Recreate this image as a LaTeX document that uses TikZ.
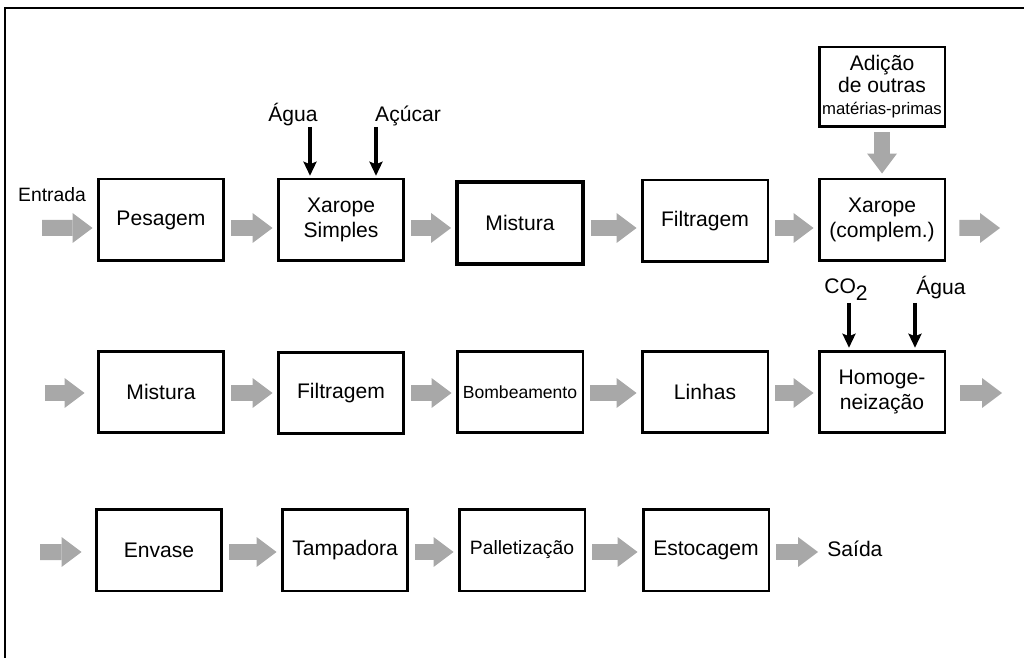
\documentclass[tikz,border=0pt]{standalone}
\usepackage{fontspec}
\setmainfont{Liberation Sans}
\usepackage{xcolor}
\usetikzlibrary{positioning,calc,arrows.meta}
\definecolor{flowgray}{RGB}{168,168,168}

\begin{document}
\begin{tikzpicture}[x=0.02cm,y=-0.02cm,
        stage/.style={draw,line width=1.7pt,minimum width=2.52cm,minimum height=1.64cm,
                      inner sep=1pt,align=center,font=\fontsize{12}{14}\selectfont},
        flow/.style={draw=flowgray,line width=0.32cm,
                     -{Triangle[length=0.4cm,width=0.6cm,line width=0pt 0]},
                     shorten <=0.12cm,shorten >=0.08cm},
        feed/.style={line width=0.08cm,-{Stealth[length=0.28cm,width=0.26cm,inset=0.05cm]},
                     shorten >=1pt},
        tag/.style={inner sep=0pt,font=\fontsize{12}{13}\selectfont}]
    \useasboundingbox (0,0) rectangle (1024,658);
    \draw[line width=0.05cm] (5,660) -- (5,8) -- (1026,8);

%Nodes
    % linha 1
    \node[stage] (pes) at (161,220) {Pesagem};
    \node[stage] (xs) at (341,220) {Xarope\\Simples};
    \node[stage, line width=2.2pt] (mis1) at (520,223) {Mistura};
    \node[stage] (fil1) at (705,221) {Filtragem};
    \node[stage] (xc) at (882,220) {Xarope\\(complem.)};
    \node[stage, minimum height=1.6cm, font=\fontsize{12}{12.5}\selectfont] (add) at (882,87)
        {Adição\\de outras\\{\fontsize{9.5}{10}\selectfont matérias-primas}};
    % linha 2
    \node[stage] (mis2) at (161,392) {Mistura};
    \node[stage] (fil2) at (341,393) {Filtragem};
    \node[stage, font=\fontsize{10}{12}\selectfont] (bom) at (520,392) {Bombeamento};
    \node[stage] (lin) at (705,392) {Linhas};
    \node[stage] (hom) at (882,392) {Homoge-\\neização};
    % linha 3
    \node[stage] (env) at (159,550) {Envase};
    \node[stage] (tam) at (345,550) {Tampadora};
    \node[stage, font=\fontsize{11}{12}\selectfont] (pal) at (522,550) {Palletização};
    \node[stage] (est) at (706,550) {Estocagem};

    % textos
    \node[tag, font=\fontsize{11}{12}\selectfont, anchor=base] (ent) at (52,202) {Entrada};
    \node[tag, anchor=west] (sai) at (827,549) {Saída};
    \node[tag, anchor=base] (agua1) at (293,122) {Água};
    \node[tag, anchor=base] (acu) at (408,122) {Açúcar};
    \node[tag, anchor=base] (co) at (846,294) {CO\raisebox{-0.55ex}{2}};
    \node[tag, anchor=base] (agua2) at (941,295) {Água};

    \coordinate (in1) at (42,228);
    \coordinate (out1) at (1000,228);
    \coordinate (in2) at (45,393);
    \coordinate (out2) at (1002,393);
    \coordinate (in3) at (40,552);
    \coordinate (w1) at (310,127);
    \coordinate (s1) at (376,127);
    \coordinate (c2) at (849,303);
    \coordinate (w2) at (915,303);

%Connectors
    \draw[flow, shorten <=0pt] (in1) -- ([yshift=-0.16cm]pes.west);
    \draw[flow] ([yshift=-0.16cm]pes.east) -- ([yshift=-0.16cm]xs.west);
    \draw[flow] ([yshift=-0.16cm]xs.east) -- ([yshift=-0.16cm]xs.east -| mis1.west);
    \draw[flow] ([yshift=-0.16cm]xs.east -| mis1.east) -- ([yshift=-0.16cm]xs.east -| fil1.west);
    \draw[flow] ([yshift=-0.16cm]xs.east -| fil1.east) -- ([yshift=-0.16cm]xc.west);
    \draw[flow, shorten <=0.26cm, shorten >=0pt] ([yshift=-0.16cm]xc.east) -- (out1);
    \draw[flow, shorten <=0.08cm] (add) -- (xc);

    \draw[flow, shorten <=0pt, shorten >=0.24cm] (in2) -- ([yshift=-0.02cm]mis2.west);
    \draw[flow] ([yshift=-0.02cm]mis2.east) -- ([yshift=-0.02cm]mis2.east -| fil2.west);
    \draw[flow] ([yshift=-0.02cm]mis2.east -| fil2.east) -- ([yshift=-0.02cm]bom.west);
    \draw[flow] ([yshift=-0.02cm]bom.east) -- ([yshift=-0.02cm]lin.west);
    \draw[flow] ([yshift=-0.02cm]lin.east) -- ([yshift=-0.02cm]hom.west);
    \draw[flow, shorten <=0.28cm, shorten >=0pt] ([yshift=-0.02cm]hom.east) -- (out2);

    \draw[flow, shorten <=0pt, shorten >=0.26cm] (in3) -- ([yshift=-0.04cm]env.west);
    \draw[flow] ([yshift=-0.04cm]env.east) -- ([yshift=-0.04cm]tam.west);
    \draw[flow] ([yshift=-0.04cm]tam.east) -- ([yshift=-0.04cm]pal.west);
    \draw[flow] ([yshift=-0.04cm]pal.east) -- ([yshift=-0.04cm]est.west);
    \draw[flow, shorten >=0.18cm] ([yshift=-0.04cm]est.east) -- ([yshift=-0.04cm]est.east -| sai.west);

    \draw[feed] (w1) -- (w1 |- xs.north);
    \draw[feed] (s1) -- (s1 |- xs.north);
    \draw[feed] (c2) -- (c2 |- hom.north);
    \draw[feed] (w2) -- (w2 |- hom.north);
\end{tikzpicture}
\end{document}
